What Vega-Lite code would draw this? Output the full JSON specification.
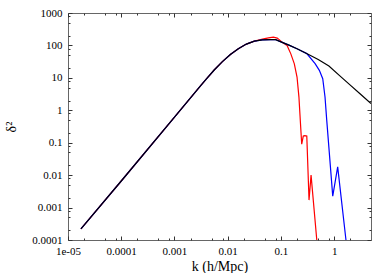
{
  "$schema": "https://vega.github.io/schema/vega-lite/v6.json",
  "autosize": "none",
  "padding": {"left": 68, "top": 13, "right": 18, "bottom": 33},
  "width": 303,
  "height": 227,
  "background": "white",
  "config": {
    "view": {"stroke": "#666", "strokeWidth": 1},
    "axis": {"grid": false, "domain": false, "labelFont": "Liberation Serif", "labelFontSize": 11, "labelColor": "black", "labelFlush": false, "labelOverlap": false, "titleFont": "Liberation Serif", "titleFontSize": 14, "titleFontWeight": "normal", "titleColor": "black", "tickColor": "#333", "tickWidth": 1}
  },
  "datasets": {
    "black": [
      {"k": 1.75e-5, "v": 2.2e-4}, {"k": 1e-4, "v": 6.6e-3}, {"k": 1e-3, "v": 0.615}, {"k": 3.16e-3, "v": 5.94},
      {"k": 3.98e-3, "v": 9.36}, {"k": 5.62e-3, "v": 17.8}, {"k": 7.94e-3, "v": 31.6}, {"k": 0.0112, "v": 52.5},
      {"k": 0.0158, "v": 79.4}, {"k": 0.0224, "v": 110}, {"k": 0.0316, "v": 135}, {"k": 0.0447, "v": 148},
      {"k": 0.0631, "v": 151}, {"k": 0.0794, "v": 150}, {"k": 0.1, "v": 129}, {"k": 0.141, "v": 102},
      {"k": 0.2, "v": 78.9}, {"k": 0.316, "v": 54.6}, {"k": 0.5, "v": 36.9}, {"k": 0.794, "v": 23.3},
      {"k": 1.26, "v": 11.7}, {"k": 2.0, "v": 5.98}, {"k": 3.16, "v": 3.07}, {"k": 4.9, "v": 1.62}
    ],
    "red": [
      {"k": 1.75e-5, "v": 2.2e-4}, {"k": 1e-4, "v": 6.6e-3}, {"k": 1e-3, "v": 0.615}, {"k": 3.16e-3, "v": 5.94},
      {"k": 3.98e-3, "v": 9.36}, {"k": 5.62e-3, "v": 17.8}, {"k": 7.94e-3, "v": 31.6}, {"k": 0.0112, "v": 52.5},
      {"k": 0.0158, "v": 79.4}, {"k": 0.0224, "v": 110}, {"k": 0.0316, "v": 136}, {"k": 0.045, "v": 157},
      {"k": 0.058, "v": 170}, {"k": 0.072, "v": 180}, {"k": 0.085, "v": 168}, {"k": 0.096, "v": 143},
      {"k": 0.11, "v": 118}, {"k": 0.13, "v": 100}, {"k": 0.153, "v": 55}, {"k": 0.178, "v": 27},
      {"k": 0.2, "v": 10.6}, {"k": 0.217, "v": 2.6}, {"k": 0.232, "v": 0.4}, {"k": 0.245, "v": 0.09},
      {"k": 0.262, "v": 0.16}, {"k": 0.28, "v": 0.165}, {"k": 0.305, "v": 0.16}, {"k": 0.336, "v": 0.0017},
      {"k": 0.367, "v": 0.01}, {"k": 0.47, "v": 0.0001}
    ],
    "blue": [
      {"k": 1.75e-5, "v": 2.2e-4}, {"k": 1e-4, "v": 6.6e-3}, {"k": 1e-3, "v": 0.615}, {"k": 3.16e-3, "v": 5.94},
      {"k": 3.98e-3, "v": 9.36}, {"k": 5.62e-3, "v": 17.8}, {"k": 7.94e-3, "v": 31.6}, {"k": 0.0112, "v": 52.5},
      {"k": 0.0158, "v": 79.4}, {"k": 0.0224, "v": 110}, {"k": 0.0316, "v": 135}, {"k": 0.0447, "v": 148},
      {"k": 0.0631, "v": 151}, {"k": 0.0794, "v": 150}, {"k": 0.1, "v": 129}, {"k": 0.141, "v": 102},
      {"k": 0.2, "v": 78.9}, {"k": 0.305, "v": 56}, {"k": 0.437, "v": 27.3}, {"k": 0.525, "v": 17},
      {"k": 0.608, "v": 9.45}, {"k": 0.671, "v": 2.57}, {"k": 0.723, "v": 0.49}, {"k": 0.937, "v": 0.00226},
      {"k": 1.16, "v": 0.018}, {"k": 1.66, "v": 0.0001}
    ]
  },
  "resolve": {"axis": {"x": "independent", "y": "independent"}},
  "layer": [
    {
      "data": {"name": "red"},
      "mark": {"type": "line", "color": "#ff0000", "strokeWidth": 1.2, "clip": true},
      "encoding": {
        "x": {"field": "k", "type": "quantitative", "scale": {"type": "log", "domain": [1e-5, 4.9], "nice": false},
          "axis": {"orient": "bottom", "values": [1e-5, 1e-4, 1e-3, 0.01, 0.1, 1], "tickSize": -4, "labelPadding": 9,
            "labelExpr": "datum.value < 2e-5 ? '1e-05' : toString(datum.value)", "title": "k (h/Mpc)",
            "titleX": 151.5, "titleY": 30.5, "titleBaseline": "alphabetic", "titleAlign": "center", "titlePadding": 0}},
        "y": {"field": "v", "type": "quantitative", "scale": {"type": "log", "domain": [0.0001, 1000], "nice": false},
          "axis": {"orient": "left", "values": [0.0001, 0.001, 0.01, 0.1, 1, 10, 100, 1000], "tickSize": -4, "labelPadding": 10,
            "labelExpr": "toString(datum.value)", "title": "δ²", "titleX": -57, "titleY": 113.5, "titleAngle": -90,
            "titleAlign": "center", "titleBaseline": "middle"}}
      }
    },
    {
      "data": {"name": "blue"},
      "mark": {"type": "line", "color": "#0000ff", "strokeWidth": 1.2, "clip": true},
      "encoding": {
        "x": {"field": "k", "type": "quantitative",
          "axis": {"orient": "top", "values": [1e-5, 1e-4, 1e-3, 0.01, 0.1, 1], "tickSize": -4, "labels": false, "title": null}},
        "y": {"field": "v", "type": "quantitative",
          "axis": {"orient": "right", "values": [0.0001, 0.001, 0.01, 0.1, 1, 10, 100, 1000], "tickSize": -4, "labels": false, "title": null}}
      }
    },
    {
      "data": {"name": "black"},
      "mark": {"type": "line", "color": "#000000", "strokeWidth": 1.2, "clip": true},
      "encoding": {
        "x": {"field": "k", "type": "quantitative",
          "axis": {"orient": "bottom", "values": [2e-5, 5e-5, 8e-5, 2e-4, 5e-4, 8e-4, 0.002, 0.005, 0.008, 0.02, 0.05, 0.08, 0.2, 0.5, 0.8, 2], "tickSize": -2, "labels": false, "title": null}},
        "y": {"field": "v", "type": "quantitative",
          "axis": {"orient": "left", "values": [2e-4, 5e-4, 8e-4, 0.002, 0.005, 0.008, 0.02, 0.05, 0.08, 0.2, 0.5, 0.8, 2, 5, 8, 20, 50, 80, 200, 500, 800], "tickSize": -2, "labels": false, "title": null}}
      }
    },
    {
      "data": {"name": "black"},
      "mark": {"type": "line", "color": "#000000", "opacity": 0, "clip": true},
      "encoding": {
        "x": {"field": "k", "type": "quantitative",
          "axis": {"orient": "top", "values": [2e-5, 5e-5, 8e-5, 2e-4, 5e-4, 8e-4, 0.002, 0.005, 0.008, 0.02, 0.05, 0.08, 0.2, 0.5, 0.8, 2], "tickSize": -2, "labels": false, "title": null}},
        "y": {"field": "v", "type": "quantitative",
          "axis": {"orient": "right", "values": [2e-4, 5e-4, 8e-4, 0.002, 0.005, 0.008, 0.02, 0.05, 0.08, 0.2, 0.5, 0.8, 2, 5, 8, 20, 50, 80, 200, 500, 800], "tickSize": -2, "labels": false, "title": null}}
      }
    }
  ]
}
